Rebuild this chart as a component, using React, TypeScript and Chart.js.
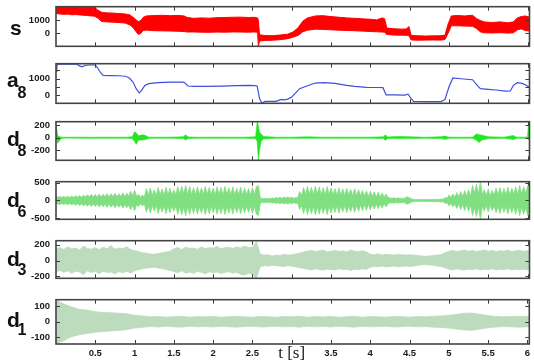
import React, { useEffect, useRef } from 'react';
import { Chart, registerables } from 'chart.js';

Chart.register(...registerables);

// ---------------- data ----------------
const xTickValues = [0.5, 1, 1.5, 2, 2.5, 3, 3.5, 4, 4.5, 5, 5.5, 6];
const xTickLabels = ['0.5', '1', '1.5', '2', '2.5', 't [s]', '3.5', '4', '4.5', '5', '5.5', '6'];

// s : raw signal, envelope of the red band
const sTime = [0, 0.05, 0.1, 0.15, 0.2, 0.25, 0.3, 0.35, 0.4, 0.45, 0.49, 0.53, 0.58, 0.65, 0.72, 0.8, 0.88, 0.94, 0.98, 1.02, 1.05, 1.08, 1.11, 1.15, 1.25, 1.35, 1.45, 1.55, 1.63, 1.67, 1.75, 1.85, 1.95, 2.05, 2.15, 2.25, 2.35, 2.45, 2.52, 2.565, 2.575, 2.59, 2.65, 2.75, 2.85, 2.95, 3.02, 3.08, 3.14, 3.2, 3.3, 3.4, 3.5, 3.6, 3.7, 3.8, 3.9, 4.0, 4.08, 4.15, 4.18, 4.21, 4.3, 4.4, 4.46, 4.49, 4.52, 4.6, 4.7, 4.8, 4.9, 4.95, 4.99, 5.03, 5.1, 5.2, 5.3, 5.35, 5.4, 5.45, 5.55, 5.65, 5.75, 5.82, 5.87, 5.92, 5.97, 6.03];
const sUpper = [2000, 2000, 1990, 2000, 1980, 1990, 1970, 1960, 1980, 1950, 1960, 1750, 1580, 1530, 1520, 1480, 1450, 1380, 1200, 1000, 880, 950, 1200, 1300, 1330, 1350, 1320, 1340, 1300, 1180, 1120, 1150, 1130, 1170, 1180, 1200, 1210, 1180, 1200, 1150, 950, -120, -180, -200, -150, -80, 100, 400, 900, 1150, 1300, 1320, 1250, 1200, 1150, 1120, 1080, 1050, 1000, 1150, 1100, 380, 330, 300, 320, 500, -180, -200, -220, -210, -200, -150, 700, 1300, 1330, 1300, 1350, 1100, 950, 850, 800, 850, 780, 850, 1150, 1250, 1300, 1200];
const sLower = [1480, 1450, 1420, 1440, 1390, 1400, 1380, 1350, 1330, 1300, 1280, 1150, 880, 850, 830, 800, 760, 620, 420, 100, -100, -20, 200, 230, 180, 170, 160, 140, 120, 80, 90, 70, 60, 80, 70, 90, 80, 70, 90, 60, -1000, -600, -560, -540, -500, -420, -300, -180, 100, 220, 300, 280, 250, 220, 200, 180, 150, 120, 100, 80, 60, -100, -150, -160, -170, -200, -520, -540, -530, -520, -530, -480, 0, 550, 560, 530, 520, 350, 100, 20, 10, 30, 0, 20, 250, 320, 200, 150];

// a8 : approximation
const a8Time = [0, 0.01, 0.02, 0.05, 0.26, 0.3, 0.33, 0.37, 0.42, 0.5, 0.53, 0.57, 0.6, 0.7, 0.8, 0.88, 0.93, 0.98, 1.02, 1.06, 1.09, 1.13, 1.18, 1.3, 1.45, 1.6, 1.63, 1.68, 1.75, 1.9, 2.1, 2.3, 2.45, 2.53, 2.56, 2.59, 2.62, 2.66, 2.8, 2.85, 2.87, 2.9, 2.95, 3.0, 3.05, 3.1, 3.2, 3.3, 3.42, 3.55, 3.7, 3.8, 3.95, 4.1, 4.16, 4.2, 4.3, 4.44, 4.48, 4.51, 4.55, 4.7, 4.9, 4.95, 5.0, 5.05, 5.15, 5.3, 5.36, 5.4, 5.5, 5.6, 5.72, 5.78, 5.82, 5.87, 5.93, 5.98, 6.03];
const a8Value = [1450, 1700, 1880, 1900, 1890, 1780, 1720, 1800, 1830, 1830, 1650, 1350, 1200, 1190, 1180, 1150, 1060, 800, 400, 150, 300, 600, 700, 760, 790, 800, 780, 560, 540, 540, 550, 580, 600, 590, 560, -200, -480, -370, -370, -280, -250, -280, -230, -100, 150, 400, 580, 740, 760, 720, 600, 540, 480, 470, 460, 30, 20, 10, 70, -150, -370, -380, -380, -250, 500, 1050, 1000, 940, 600, 400, 360, 320, 250, 260, 600, 760, 720, 620, 450];

// d8 : detail, envelope
const d8Time = [0, 0.01, 0.02, 0.04, 0.07, 0.15, 0.3, 0.45, 0.6, 0.75, 0.9, 0.97, 1.0, 1.02, 1.05, 1.1, 1.14, 1.18, 1.3, 1.45, 1.62, 1.65, 1.68, 1.8, 2.0, 2.2, 2.4, 2.54, 2.56, 2.575, 2.59, 2.61, 2.64, 2.8, 3.0, 3.2, 3.4, 3.6, 3.8, 4.0, 4.17, 4.19, 4.22, 4.35, 4.5, 4.7, 4.9, 4.95, 5.0, 5.15, 5.3, 5.35, 5.38, 5.42, 5.5, 5.7, 5.82, 5.86, 6.0, 6.01, 6.03];
const d8Upper = [190, 190, 40, 18, 8, 6, 8, 6, 7, 6, 8, 14, 95, 80, 30, 45, 35, 8, 6, 8, 14, 45, 12, 6, 7, 6, 7, 14, 260, 200, 90, 60, 20, 6, 7, 14, 6, 8, 7, 8, 14, 45, 12, 20, 14, 6, 14, 26, 8, 6, 8, 60, 50, 40, 14, 8, 35, 8, 8, 190, 190];
const d8Lower = [-30, -20, -90, -60, -10, -8, -10, -12, -10, -10, -12, -16, -60, -110, -40, -40, -30, -12, -10, -10, -16, -40, -14, -10, -11, -10, -11, -16, -60, -370, -200, -60, -22, -10, -11, -12, -10, -12, -10, -11, -16, -45, -14, -16, -16, -10, -16, -28, -12, -10, -12, -40, -80, -40, -16, -12, -30, -12, -12, -30, -30];

// d6 : amplitude of the band, one value every 0.025 s
const d6Step = 0.025;
const d6Amp = [
  120, 90, 110, 80, 115, 85, 120, 80, 125, 85,
  130, 90, 140, 90, 150, 95, 160, 100, 170, 100,
  165, 95, 180, 100, 175, 105, 190, 100, 185, 110,
  200, 105, 190, 110, 210, 110, 200, 120, 260, 130,
  290, 120, 170, 90, 150, 100, 330, 150, 350, 140,
  300, 130, 360, 160, 320, 140, 370, 150, 340, 150,
  300, 160, 380, 170, 400, 180, 420, 170, 390, 160,
  360, 150, 380, 170, 350, 160, 390, 170, 370, 150,
  340, 160, 380, 170, 360, 150, 390, 170, 350, 160,
  380, 150, 340, 160, 370, 150, 350, 160, 330, 150,
  360, 160, 380, 420, 70, 50, 65, 45, 60, 50,
  70, 55, 80, 60, 90, 60, 95, 70, 100, 70,
  90, 60, 80, 70, 250, 140, 360, 160, 390, 170,
  370, 150, 400, 170, 380, 160, 360, 150, 390, 160,
  350, 150, 330, 140, 350, 150, 320, 140, 340, 150,
  310, 130, 330, 140, 300, 130, 280, 120, 270, 110,
  260, 110, 240, 100, 230, 100, 210, 90, 180, 80,
  70, 60, 75, 55, 70, 60, 65, 50, 90, 100,
  70, 45, 30, 25, 30, 25, 28, 25, 30, 25,
  28, 25, 30, 28, 35, 30, 40, 35, 80, 60,
  150, 80, 180, 90, 220, 100, 250, 110, 280, 120,
  300, 130, 420, 200, 450, 180, 520, 150, 300, 140,
  320, 130, 280, 150, 340, 160, 360, 140, 330, 160,
  370, 150, 340, 170, 380, 160, 420, 180, 380, 200,
  400, 520,
];

// d3 : envelope, one value every 0.05 s
const d3Step = 0.05;
const d3Upper = [
  150, 165, 140, 175, 150, 160, 135, 185, 155, 145,
  165, 140, 170, 150, 190, 145, 160, 150, 175, 140,
  130, 115, 100, 95, 85, 80, 90, 100, 110, 120,
  150, 165, 140, 170, 155, 160, 145, 175, 150, 165,
  160, 180, 150, 165, 170, 155, 175, 160, 185, 165,
  170, 240, 80, 70, 75, 60, 70, 65, 80, 70,
  75, 85, 95, 110, 120, 130, 115, 125, 135, 110,
  120, 130, 115, 125, 110, 135, 120, 115, 125, 110,
  80, 75, 85, 70, 80, 75, 70, 80, 75, 70,
  75, 70, 65, 60, 55, 60, 65, 70, 75, 100,
  120, 130, 115, 125, 135, 120, 130, 115, 125, 135,
  120, 130, 115, 125, 120, 135, 115, 125, 130, 120, 125, 120,
];
const d3Lower = [
  -140, -125, -150, -130, -160, -135, -145, -180, -130, -150,
  -140, -165, -135, -150, -145, -170, -140, -155, -135, -160,
  -130, -115, -105, -95, -90, -85, -95, -100, -115, -125,
  -140, -155, -130, -160, -145, -165, -135, -150, -170, -140,
  -155, -145, -165, -150, -140, -160, -150, -175, -185, -160,
  -175, -225, -75, -65, -70, -60, -65, -70, -75, -65,
  -70, -80, -90, -100, -110, -120, -105, -115, -120, -110,
  -115, -120, -105, -115, -110, -125, -110, -115, -105, -110,
  -85, -75, -80, -70, -80, -75, -70, -80, -75, -70,
  -75, -70, -60, -55, -50, -55, -60, -70, -75, -90,
  -110, -120, -105, -115, -120, -110, -115, -105, -120, -110,
  -115, -105, -120, -110, -115, -105, -120, -110, -115, -110, -120, -110,
];

// d1 : envelope, one value every 0.1 s
const d1Step = 0.1;
const d1Upper = [
  140, 115, 95, 80, 75, 65, 60, 58, 55, 52,
  42, 38, 32, 35, 30, 33, 36, 30, 34, 32,
  35, 30, 33, 36, 32, 30, 35, 33, 30, 34,
  32, 36, 30, 34, 31, 35, 30, 33, 36, 30,
  34, 32, 30, 35, 33, 30, 34, 32, 36, 38,
  42, 48, 55, 56, 48, 40, 35, 32, 34, 36,
  34, 33,
];
const d1Lower = [
  -140, -120, -95, -82, -75, -66, -62, -58, -55, -50,
  -40, -35, -30, -33, -28, -32, -34, -28, -32, -30,
  -33, -28, -31, -34, -30, -28, -33, -31, -28, -32,
  -30, -34, -28, -32, -29, -33, -28, -31, -34, -28,
  -32, -30, -28, -33, -31, -28, -32, -30, -34, -36,
  -40, -46, -52, -54, -46, -38, -33, -30, -32, -34,
  -32, -31,
];

// ---------------- layout / style ----------------
const W = 534;
const X_MAX = 6.025;
const PAD = 8;
const X_AXIS_H = 20;
const RIGHT_PAD = 4.5;
const SANS = '"Liberation Sans", Arial, Helvetica, sans-serif';
const SERIF = '"Liberation Serif", "Times New Roman", serif';

const xyPts = (xs: number[], ys: number[]) => ys.map((y, i) => ({ x: xs[i], y }));
const stepPts = (step: number, ys: number[], sign = 1) => ys.map((y, i) => ({ x: i * step, y: sign * y }));

function band(upper: any[], lower: any[], color: string, bw = 1) {
  return [
    { data: upper, borderColor: color, backgroundColor: color, borderWidth: bw, pointRadius: 0, tension: 0, fill: false },
    { data: lower, borderColor: color, backgroundColor: color, borderWidth: bw, pointRadius: 0, tension: 0, fill: '-1' },
  ];
}

const panels = [
  {
    key: 's', top: 3, bottom: 50, yMin: -1000, yMax: 2000, yTicks: [0, 1000], yLabels: ['0', '1000'],
    name: 's', sub: '', nameX: 10, nameY: 35, subY: 0, showX: false,
    datasets: band(xyPts(sTime, sUpper), xyPts(sTime, sLower), '#ff0000', 1),
  },
  {
    key: 'a8', top: 60, bottom: 107, yMin: -485, yMax: 1910, yTicks: [0, 500, 1000, 1500], yLabels: ['0', '', '1000', ''],
    name: 'a', sub: '8', nameX: 7, nameY: 87, subY: 98, showX: false,
    datasets: [{ data: xyPts(a8Time, a8Value), borderColor: '#3d4fe0', borderWidth: 1.2, pointRadius: 0, tension: 0, fill: false }],
  },
  {
    key: 'd8', top: 118, bottom: 164, yMin: -370, yMax: 260, yTicks: [-200, 0, 200], yLabels: ['-200', '0', '200'],
    name: 'd', sub: '8', nameX: 7, nameY: 146, subY: 156, showX: false,
    datasets: band(xyPts(d8Time, d8Upper), xyPts(d8Time, d8Lower), '#22e622', 0.6),
  },
  {
    key: 'd6', top: 178, bottom: 223, yMin: -523, yMax: 523, yTicks: [-500, 0, 500], yLabels: ['-500', '0', '500'],
    name: 'd', sub: '6', nameX: 7, nameY: 207, subY: 217, showX: false,
    datasets: band(stepPts(d6Step, d6Amp), stepPts(d6Step, d6Amp, -1), '#80df80', 0.8),
  },
  {
    key: 'd3', top: 237, bottom: 282, yMin: -225, yMax: 253, yTicks: [-200, 0, 200], yLabels: ['-200', '0', '200'],
    name: 'd', sub: '3', nameX: 7, nameY: 266, subY: 275, showX: false,
    datasets: band(stepPts(d3Step, d3Upper), stepPts(d3Step, d3Lower), '#bddcbd', 0.8),
  },
  {
    key: 'd1', top: 296, bottom: 344, yMin: -142, yMax: 142, yTicks: [-100, 0, 100], yLabels: ['-100', '0', '100'],
    name: 'd', sub: '1', nameX: 7, nameY: 327, subY: 335, showX: true,
    datasets: band(stepPts(d1Step, d1Upper), stepPts(d1Step, d1Lower), '#bddcbd', 0.8),
  },
];

const framePlugin = {
  id: 'panelFrame',
  afterDraw(chart: any, _args: any, opts: any) {
    const { ctx, chartArea: a, scales } = chart;
    const xs = scales.x;
    const ys = scales.y;
    ctx.save();
    ctx.strokeStyle = '#3a3a3a';
    ctx.lineWidth = 1;
    ctx.beginPath();
    for (const v of xTickValues) {
      const px = Math.round(xs.getPixelForValue(v)) + 0.5;
      ctx.moveTo(px, a.top);
      ctx.lineTo(px, a.top + 4);
      ctx.moveTo(px, a.bottom);
      ctx.lineTo(px, a.bottom - 4);
    }
    for (const v of opts.yTicks) {
      const py = Math.round(ys.getPixelForValue(v)) + 0.5;
      ctx.moveTo(a.left, py);
      ctx.lineTo(a.left + 4, py);
      ctx.moveTo(a.right, py);
      ctx.lineTo(a.right - 4, py);
    }
    ctx.stroke();
    ctx.lineWidth = 1.6;
    ctx.strokeStyle = '#444444';
    ctx.strokeRect(a.left, a.top, a.right - a.left, a.bottom - a.top);

    const off = opts.canvasTop;
    ctx.fillStyle = '#111111';
    ctx.textAlign = 'left';
    ctx.textBaseline = 'alphabetic';
    ctx.font = `bold 21px ${SANS}`;
    ctx.fillText(opts.name, opts.nameX, opts.nameY - off);
    if (opts.sub) {
      ctx.font = `bold 16px ${SANS}`;
      ctx.fillText(opts.sub, 17.5, opts.subY - off);
    }
    ctx.restore();
  },
};

function Panel({ spec }: { spec: any }) {
  const ref = useRef<HTMLCanvasElement | null>(null);
  const canvasTop = spec.top - PAD;
  const h = spec.bottom - spec.top + PAD + (spec.showX ? X_AXIS_H : PAD);

  useEffect(() => {
    const canvas = ref.current;
    if (!canvas) return;
    const xScale: any = {
      type: 'linear',
      min: 0,
      max: X_MAX,
      display: spec.showX,
      grid: { display: false, drawTicks: false },
      border: { display: false },
      afterBuildTicks: (s: any) => { s.ticks = xTickValues.map((v) => ({ value: v })); },
      ticks: {
        autoSkip: false,
        maxRotation: 0,
        minRotation: 0,
        padding: 4,
        color: '#1a1a1a',
        font: (c: any) => (c.tick && c.tick.value === 3
          ? { family: SERIF, size: 17, weight: 'normal', lineHeight: 0.67 }
          : { family: SANS, size: 9.5, weight: 'bold' }) as any,
        callback: (v: any) => {
          const i = xTickValues.indexOf(Number(v));
          return i >= 0 ? xTickLabels[i] : '';
        },
      },
    };
    if (spec.showX) {
      xScale.afterFit = (s: any) => { s.height = X_AXIS_H; };
    }
    const chart = new Chart(canvas, {
      type: 'line',
      data: { datasets: spec.datasets },
      options: {
        animation: false,
        responsive: false,
        events: [],
        layout: { padding: { left: 0, right: RIGHT_PAD, top: PAD, bottom: spec.showX ? 0 : PAD } },
        plugins: {
          legend: { display: false },
          tooltip: { enabled: false },
          panelFrame: {
            yTicks: spec.yTicks, name: spec.name, sub: spec.sub, nameX: spec.nameX,
            nameY: spec.nameY, subY: spec.subY, canvasTop,
          },
        } as any,
        scales: {
          x: xScale,
          y: {
            type: 'linear',
            min: spec.yMin,
            max: spec.yMax,
            grid: { display: false, drawTicks: false },
            border: { display: false },
            afterBuildTicks: (s: any) => { s.ticks = spec.yTicks.map((v: number) => ({ value: v })); },
            afterFit: (s: any) => { s.width = 56; },
            ticks: {
              padding: 6,
              color: '#1a1a1a',
              font: { family: SANS, size: 9.5, weight: 'bold' },
              callback: (v: any) => {
                const i = spec.yTicks.indexOf(Number(v));
                return i >= 0 ? spec.yLabels[i] : '';
              },
            },
          },
        },
      } as any,
      plugins: [framePlugin as any],
    });
    return () => chart.destroy();
  }, [spec]);

  return (
    <canvas
      ref={ref}
      width={W}
      height={h}
      style={{ position: 'absolute', left: 0, top: canvasTop, width: W, height: h, display: 'block' }}
    />
  );
}

export default function App() {
  return (
    <div style={{ position: 'absolute', left: 0, top: 0, width: W, height: 364, background: '#ffffff', overflow: 'hidden' }}>
      {panels.map((p) => (
        <Panel key={p.key} spec={p} />
      ))}
    </div>
  );
}
